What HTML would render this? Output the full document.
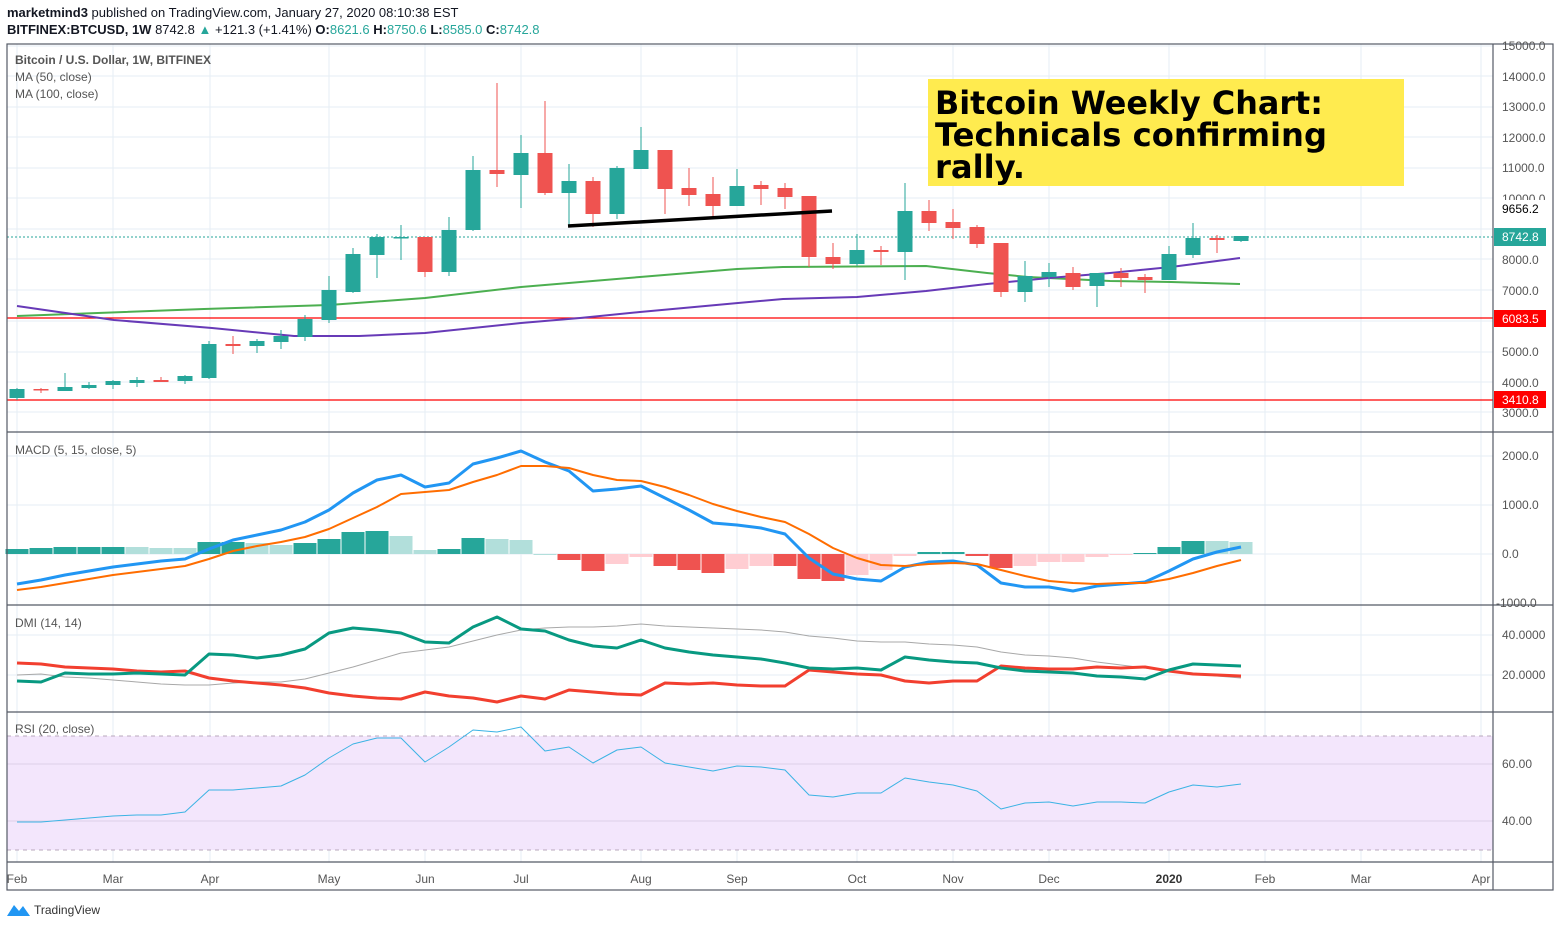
<!DOCTYPE html>
<html><head><meta charset="utf-8"><style>
html,body{margin:0;padding:0;background:#fff;width:1560px;height:928px;overflow:hidden;font-family:"Liberation Sans",sans-serif}
svg{position:absolute;left:0;top:0}
</style></head><body>
<svg id="s" width="1560" height="928" xmlns="http://www.w3.org/2000/svg" font-family="Liberation Sans, sans-serif">
<rect x="0" y="0" width="1560" height="928" fill="#fff"/>
<g id="grid" stroke="#e6eef4" stroke-width="1"></g>
<!-- RSI band -->
<rect x="7" y="736" width="1486" height="114" fill="#f3e6fc"/>
<line x1="7" y1="736" x2="1493" y2="736" stroke="#b8a8bc" stroke-dasharray="4,4"/>
<line x1="7" y1="850" x2="1493" y2="850" stroke="#b8a8bc" stroke-dasharray="4,4"/>
<line x1="7" y1="764" x2="1493" y2="764" stroke="#ddd0e8"/>
<line x1="7" y1="821" x2="1493" y2="821" stroke="#ddd0e8"/>
<g id="draw"></g>
<!-- frame -->
<g stroke="#555a66" stroke-width="1.2" fill="none">
<rect x="7" y="44" width="1546" height="846"/>
<line x1="1493" y1="44" x2="1493" y2="890"/>
<line x1="7" y1="432" x2="1553" y2="432"/>
<line x1="7" y1="605" x2="1553" y2="605"/>
<line x1="7" y1="712" x2="1553" y2="712"/>
<line x1="7" y1="862" x2="1553" y2="862"/>
</g>
<!-- yellow box -->
<rect x="928" y="79" width="476" height="107" fill="#ffeb4f"/>
<g font-family="DejaVu Sans, sans-serif" font-weight="bold" font-size="32" fill="#000">
<text x="935" y="114" textLength="388" lengthAdjust="spacingAndGlyphs">Bitcoin Weekly Chart:</text>
<text x="935" y="146" textLength="392" lengthAdjust="spacingAndGlyphs">Technicals confirming</text>
<text x="935" y="178" textLength="90" lengthAdjust="spacingAndGlyphs">rally.</text>
</g>
<!-- header -->
<text x="7" y="17" font-size="13" fill="#131722"><tspan font-weight="bold">marketmind3</tspan> published on TradingView.com, January 27, 2020 08:10:38 EST</text>
<text x="7" y="34" font-size="13" fill="#131722"><tspan font-weight="bold">BITFINEX:BTCUSD, 1W</tspan>  8742.8 <tspan fill="#26a69a">▲</tspan> +121.3 (+1.41%) <tspan font-weight="bold">O:</tspan><tspan fill="#26a69a">8621.6</tspan> <tspan font-weight="bold">H:</tspan><tspan fill="#26a69a">8750.6</tspan> <tspan font-weight="bold">L:</tspan><tspan fill="#26a69a">8585.0</tspan> <tspan font-weight="bold">C:</tspan><tspan fill="#26a69a">8742.8</tspan></text>
<g font-size="12" fill="#555">
<text x="15" y="64" font-weight="bold">Bitcoin / U.S. Dollar, 1W, BITFINEX</text>
<text x="15" y="81">MA (50, close)</text>
<text x="15" y="98">MA (100, close)</text>
<text x="15" y="454">MACD (5, 15, close, 5)</text>
<text x="15" y="627">DMI (14, 14)</text>
<text x="15" y="733">RSI (20, close)</text>
</g>
<!-- right axis -->
<g font-size="12" fill="#555" id="ax">
<text x="1502" y="50">15000.0</text><text x="1502" y="81">14000.0</text><text x="1502" y="111">13000.0</text><text x="1502" y="142">12000.0</text><text x="1502" y="172">11000.0</text><text x="1502" y="203">10000.0</text><text x="1502" y="264">8000.0</text><text x="1502" y="295">7000.0</text><text x="1502" y="356">5000.0</text><text x="1502" y="387">4000.0</text><text x="1502" y="417">3000.0</text>
<text x="1502" y="460">2000.0</text><text x="1502" y="509">1000.0</text><text x="1502" y="558">0.0</text><text x="1496" y="607">-1000.0</text>
<text x="1502" y="639">40.0000</text><text x="1502" y="679">20.0000</text>
<text x="1502" y="768">60.00</text><text x="1502" y="825">40.00</text>
</g>
<rect x="1494" y="200" width="55" height="17" fill="#fff"/>
<text x="1502" y="213" font-size="12" fill="#000">9656.2</text>
<rect x="1494" y="228" width="52" height="18" fill="#26a69a"/>
<text x="1502" y="241" font-size="12" fill="#fff">8742.8</text>
<rect x="1494" y="310" width="52" height="17" fill="#ff0000"/>
<text x="1502" y="323" font-size="12" fill="#fff">6083.5</text>
<rect x="1494" y="391" width="52" height="17" fill="#ff0000"/>
<text x="1502" y="404" font-size="12" fill="#fff">3410.8</text>
<!-- time axis -->
<g font-size="12" fill="#555" text-anchor="middle">
<text x="17" y="883">Feb</text><text x="113" y="883">Mar</text><text x="210" y="883">Apr</text><text x="329" y="883">May</text><text x="425" y="883">Jun</text><text x="521" y="883">Jul</text><text x="641" y="883">Aug</text><text x="737" y="883">Sep</text><text x="857" y="883">Oct</text><text x="953" y="883">Nov</text><text x="1049" y="883">Dec</text><text x="1169" y="883" font-weight="bold" fill="#333">2020</text><text x="1265" y="883">Feb</text><text x="1361" y="883">Mar</text><text x="1481" y="883">Apr</text>
</g>
<!-- footer -->
<path d="M7 916 L14 905 L19 911 L23 906 L30 916 Z" fill="#2196f3"/>
<text x="34" y="914" font-size="12" fill="#333">TradingView</text>
</svg>
<script>
(function(){
var NS="http://www.w3.org/2000/svg",g=document.getElementById("draw"),gr=document.getElementById("grid");
function el(t,a,p){var e=document.createElementNS(NS,t);for(var k in a)e.setAttribute(k,a[k]);(p||g).appendChild(e);return e;}
var X=function(i){return 17+24*i;};
// grid
[17,113,210,329,425,521,641,737,857,953,1049,1169,1265,1361,1481].forEach(function(x){el("line",{x1:x,y1:44,x2:x,y2:862},gr);});
[46,76,107,137,168,198,229,259,290,321,352,382,412,456,505,554,635,675].forEach(function(y){el("line",{x1:7,y1:y,x2:1493,y2:y},gr);});
// horizontal lines
el("line",{x1:7,y1:318,x2:1493,y2:318,stroke:"#ff0000","stroke-width":1.2});
el("line",{x1:7,y1:400,x2:1493,y2:400,stroke:"#ff0000","stroke-width":1.2});
el("line",{x1:7,y1:237,x2:1493,y2:237,stroke:"#26a69a","stroke-dasharray":"2,2"});
// candles: [bodyTop,bodyBot,wickTop,wickBot,up]
var C=[[389,398,388,400,1],[389,390,388,393,0],[387,391,373,391,1],[385,388,382,389,1],[381,385,380,389,1],[380,383,377,387,1],[380,382,377,382,0],[376,381,375,384,1],[344,378,341,379,1],[344,346,336,354,0],[341,346,339,353,1],[336,342,330,349,1],[319,337,315,341,1],[290,320,276,323,1],[254,292,248,293,1],[237,255,234,278,1],[237,238,225,260,1],[237,272,237,277,0],[230,272,217,276,1],[170,230,156,231,1],[170,174,83,187,0],[153,175,135,208,1],[153,193,101,195,0],[181,193,164,227,1],[181,214,177,227,0],[168,214,166,219,1],[150,169,127,169,1],[150,189,150,214,0],[188,195,168,206,0],[194,206,177,218,0],[186,206,169,206,1],[185,189,181,205,0],[188,197,183,209,0],[196,257,196,267,0],[257,264,243,269,0],[250,264,234,266,1],[250,252,246,265,0],[211,252,183,280,1],[211,223,200,231,0],[222,228,209,239,0],[227,244,225,248,0],[243,292,243,297,0],[276,292,261,302,1],[272,277,263,287,1],[273,287,267,290,0],[273,286,273,307,1],[273,278,268,287,0],[277,280,274,293,0],[254,280,246,280,1],[238,255,223,258,1],[238,240,235,253,0],[236,241,236,242,1]];
// MAs
function poly(pts,col,w){el("polyline",{points:pts.map(function(p){return p.join(",");}).join(" "),fill:"none",stroke:col,"stroke-width":w,"stroke-linejoin":"round"});}
poly([[17,316],[204,309],[329,305],[425,298],[521,287],[640,277],[737,269],[783,267],[926,266],[987,273],[1028,277],[1110,281],[1171,282],[1240,284]],"#4caf50",2);
poly([[17,306],[114,320],[212,328],[294,336],[359,336],[425,333],[521,323],[580,318],[640,312],[738,303],[783,299],[857,297],[926,291],[987,284],[1049,278],[1110,273],[1171,267],[1240,258]],"#673ab7",2);
C.forEach(function(c,i){var x=X(i),col=c[4]?"#26a69a":"#ef5350";
el("line",{x1:x,y1:c[2],x2:x,y2:c[3],stroke:col,"stroke-width":1});
el("rect",{x:x-7.5,y:c[0],width:15,height:Math.max(1.5,c[1]-c[0]),fill:col});});
el("line",{x1:568,y1:226,x2:832,y2:211,stroke:"#000","stroke-width":3.5});
// MACD histogram: [value y, type] type 0 dark,1 light,2 red,3 pink
var H=[[549,0],[548,0],[547,0],[547,0],[547,0],[547,1],[548,1],[548,1],[542,0],[542,0],[543,1],[545,1],[543,0],[539,0],[532,0],[531,0],[536,1],[550,1],[549,0],[538,0],[539,1],[540,1],[554,1],[560,2],[571,2],[564,3],[557,3],[566,2],[570,2],[573,2],[569,3],[566,3],[566,2],[579,2],[581,2],[575,3],[570,3],[556,3],[552,0],[552,0],[556,2],[568,2],[566,3],[562,3],[562,3],[557,3],[555,3],[553,0],[547,0],[541,0],[541,1],[542,1]];
var HC=["#26a69a","#b2dfdb","#ef5350","#ffcdd2"];
H.forEach(function(h,i){var x=X(i),z=554,y1=Math.min(h[0],z),y2=Math.max(h[0],z);el("rect",{x:x-11.5,y:y1,width:23,height:Math.max(1,y2-y1),fill:HC[h[1]]});});
function series(arr,col,w){poly(arr.map(function(v,i){return [X(i),v];}),col,w);}
series([584,580,575,571,567,564,561,559,549,540,535,530,522,510,493,480,475,487,483,464,458,451,462,471,491,489,486,498,510,523,525,528,534,558,574,579,581,567,562,561,565,583,587,587,591,586,584,582,571,559,552,547],"#2196f3",3);
series([590,587,583,579,575,572,569,566,559,551,546,542,537,529,518,507,494,492,490,482,475,466,466,468,475,480,481,487,495,504,511,517,522,534,548,558,565,566,564,563,564,570,576,581,583,584,583,583,579,573,566,560],"#ff6d00",2);
// DMI
series([675,674,677,678,680,682,684,685,685,683,682,682,679,673,667,660,653,650,647,641,635,630,628,627,627,626,624,626,627,628,629,630,632,636,638,641,642,642,644,645,647,652,655,656,658,662,665,668,671,673,676,678],"#a8a8a8",1);
series([663,664,667,668,669,671,672,671,678,681,683,685,688,693,696,698,699,692,696,698,702,696,699,690,692,694,695,683,684,683,685,686,686,670,672,674,675,681,683,681,681,666,668,669,669,667,668,667,671,674,675,676],"#f23f2f",3);
series([681,682,673,674,674,673,674,675,654,655,658,655,649,633,628,630,633,642,643,627,617,629,631,640,646,648,640,648,652,655,657,659,663,668,669,668,670,657,660,662,663,668,671,672,673,676,677,679,670,664,665,666],"#089981",3);
// RSI
series([822,822,820,818,816,815,815,812,790,790,788,786,775,758,744,738,738,762,747,730,732,727,751,747,763,750,747,763,767,771,766,767,770,795,797,793,793,778,782,785,791,809,803,802,806,802,802,803,792,785,787,784],"#3bb3e4",1);
})();
</script>
</body></html>
